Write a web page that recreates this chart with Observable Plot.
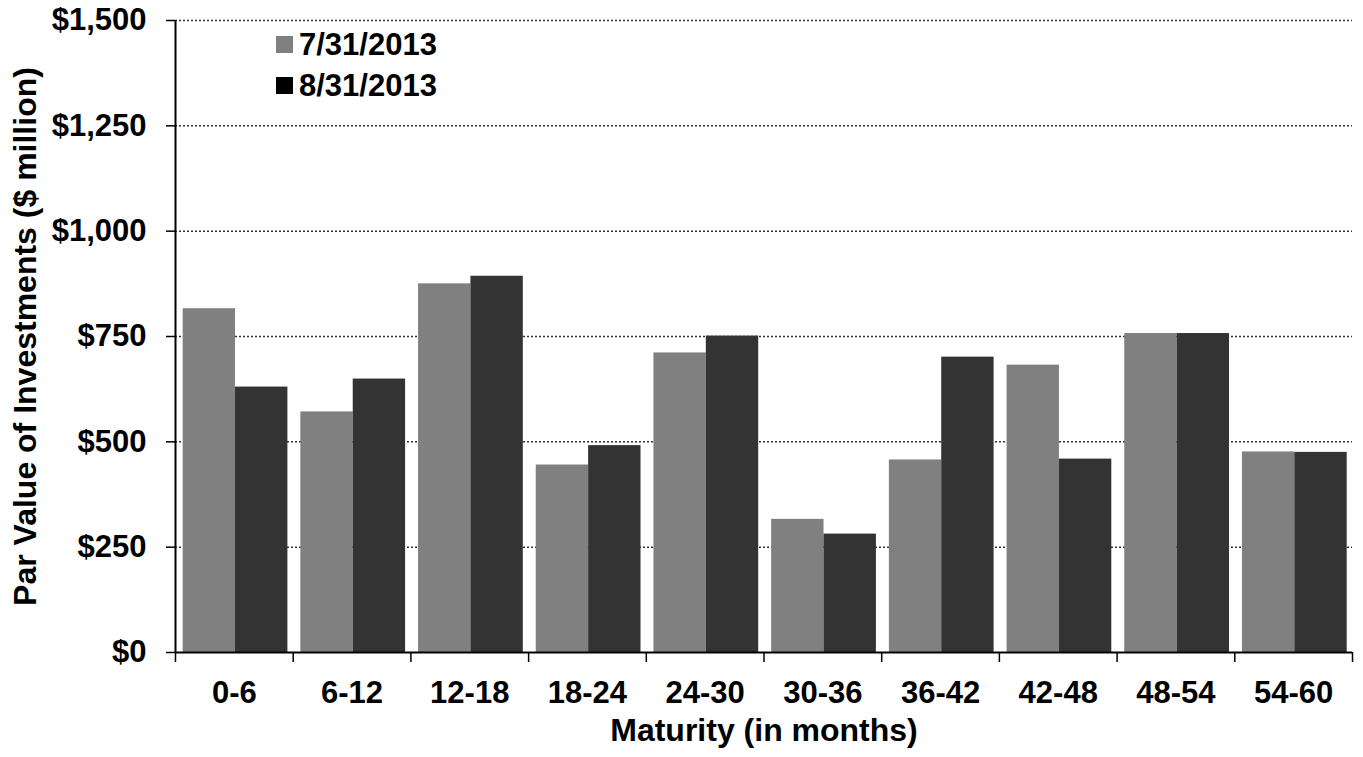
<!DOCTYPE html>
<html>
<head>
<meta charset="utf-8">
<script src="https://cdn.jsdelivr.net/npm/d3@7"></script>
<script src="https://cdn.jsdelivr.net/npm/@observablehq/plot@0.6"></script>
<style>
  html, body { margin: 0; padding: 0; background: #fff; }
  #wrap { position: relative; width: 1363px; height: 757px; overflow: hidden; font-family: "Liberation Sans", Arial, sans-serif; font-weight: bold; }
  #legend { position: absolute; left: 276px; top: 24px; font-size: 31px; line-height: 41px; color: #000; }
  #legend .row { display: flex; align-items: center; height: 41px; }
  #legend .sw { width: 17px; height: 17px; margin-right: 6px; display: inline-block; }
</style>
</head>
<body>
<div id="wrap">
  <div id="chart"></div>
  <div id="legend"></div>
</div>
<script>
const categories = ["0-6", "6-12", "12-18", "18-24", "24-30", "30-36", "36-42", "42-48", "48-54", "54-60"];
const seriesNames = ["7/31/2013", "8/31/2013"];
const jul2013 = [816, 571, 875, 445, 711, 316, 457, 682, 757, 476];
const aug2013 = [630, 649, 893, 491, 751, 281, 701, 459, 757, 475];
const yTicks = [0, 250, 500, 750, 1000, 1250, 1500];
const colors = ["#808080", "#333333"];

const seriesValues = [jul2013, aug2013];
const rows = [];
categories.forEach((c, i) => {
  seriesValues.forEach((vals, s) => {
    rows.push({i, category: c, s, series: seriesNames[s], value: vals[i]});
  });
});

const lead = 0.065;   // gap before first bar in a group (fraction of group)
const bw = 0.445;     // bar width (fraction of group)

const groupEdges = d3.range(categories.length + 1);
const groupCenters = categories.map((c, i) => i + 0.5);

const chart = Plot.plot({
  width: 1363,
  height: 757,
  marginLeft: 175,
  marginRight: 11,
  marginTop: 20,
  marginBottom: 105,
  style: {fontFamily: "'Liberation Sans', Arial, sans-serif", fontSize: "31px", fontWeight: "bold", color: "#000", background: "#fff"},
  x: {domain: [0, categories.length]},
  y: {domain: [0, 1500]},
  color: {domain: seriesNames, range: colors},
  marks: [
    Plot.gridY(yTicks.filter(d => d > 0), {stroke: "#333", strokeOpacity: 1, strokeWidth: 1.5, strokeDasharray: "2,2"}),
    Plot.rectY(rows, {
      x1: d => d.i + lead + d.s * bw,
      x2: d => d.i + lead + (d.s + 1) * bw,
      y: "value",
      fill: "series"
    }),
    Plot.ruleY([0], {stroke: "#000", strokeWidth: 2}),
    Plot.ruleX([0], {y1: 0, y2: 1500, stroke: "#000", strokeWidth: 2}),
    Plot.axisY({ticks: yTicks, tickSize: 9, tickPadding: 20, tickFormat: d => "$" + d3.format(",")(d), label: null, strokeWidth: 1.5}),
    Plot.axisX({ticks: groupEdges, tickSize: 10, tickFormat: () => "", label: null, strokeWidth: 1.5}),
    Plot.axisX({ticks: groupCenters, tickSize: 0, tickPadding: 28, tickFormat: d => categories[Math.floor(d)], label: null}),
    Plot.text(["Maturity (in months)"], {frameAnchor: "bottom", dy: 78, fontSize: 32, fontWeight: "bold", textAnchor: "middle", lineAnchor: "middle", fill: "#000"}),
    Plot.text(["Par Value of Investments ($ million)"], {frameAnchor: "left", dx: -150, rotate: -90, fontSize: 32, fontWeight: "bold", textAnchor: "middle", lineAnchor: "middle", fill: "#000"})
  ]
});
document.getElementById("chart").appendChild(chart);

const legend = document.getElementById("legend");
seriesNames.forEach((name, k) => {
  const row = document.createElement("div");
  row.className = "row";
  const sw = document.createElement("span");
  sw.className = "sw";
  sw.style.background = k === 0 ? colors[0] : "#000";
  row.appendChild(sw);
  row.appendChild(document.createTextNode(name));
  legend.appendChild(row);
});
</script>
</body>
</html>
